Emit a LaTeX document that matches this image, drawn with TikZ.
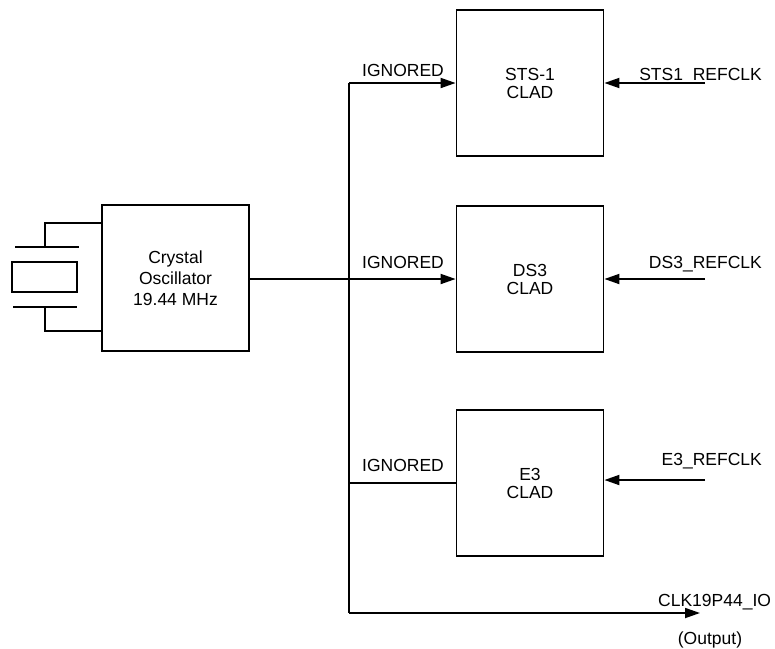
\documentclass[tikz,border=0pt]{standalone}
\usepackage{fontspec}
\setmainfont{Liberation Sans}
\usetikzlibrary{arrows.meta}

\tikzset{
  wire/.style={line width=1.8pt},
  arr/.style={wire, -{Triangle[length=15pt,width=10pt]}},
  block/.style={draw, line width=1.8pt, minimum width=147pt, minimum height=146pt,
    align=center, inner sep=0pt, font=\fontsize{17.5}{18}\selectfont},
  lbl/.style={inner sep=0pt, font=\fontsize{17.5}{18}\selectfont}
}

\begin{document}
\begin{tikzpicture}[x=1pt,y=-1pt]
\useasboundingbox (0,0) rectangle (775,648);

% blocks
\node[block, font=\fontsize{17.5}{21}\selectfont] (osc) at (175.5,278) {Crystal\\Oscillator\\19.44 MHz};
\node[block] (sts) at (530,83) {STS-1\\CLAD};
\node[block] (ds3) at (530,279) {DS3\\CLAD};
\node[block] (e3) at (530,483) {E3\\CLAD};

% crystal symbol
\draw[wire] (osc.west |- 0,223) -- (45,223) -- (45,247);
\draw[wire] (15,247) -- (79,247);
\draw[wire] (12,262) rectangle (77,292);
\draw[wire] (13,307) -- (77,307);
\draw[wire] (45,307) -- (45,331) -- (osc.west |- 0,331);

% clock bus
\coordinate (bus) at (349,0);
\coordinate (outend) at (700,613);
\draw[arr] (osc.east |- ds3.west) -- (ds3.west);
\draw[arr] (bus |- sts.west) -- (sts.west);
\draw[wire] (bus |- sts.west) -- (bus |- outend);
\draw[arr] (bus |- outend) -- (outend);
\draw[wire] (bus |- e3.west) -- (e3.west);

\node[lbl, anchor=base] (ign1) at (403,76) {IGNORED};
\node[lbl, anchor=base] (ign2) at (403,268) {IGNORED};
\node[lbl, anchor=base] (ign3) at (403,471) {IGNORED};

% reference clock inputs
\coordinate (stsin) at (705,83);
\coordinate (ds3in) at (705,279);
\coordinate (e3in) at (705,480);
\draw[arr] (stsin) -- (sts.east);
\draw[arr] (ds3in) -- (ds3.east |- ds3in);
\draw[arr] (e3in) -- (e3.east |- e3in);

\node[lbl, anchor=base east] (stsref) at (762,80) {STS1\_REFCLK};
\node[lbl, anchor=base east] (ds3ref) at (762,268) {DS3\_REFCLK};
\node[lbl, anchor=base east] (e3ref) at (762,465) {E3\_REFCLK};

% output
\node[lbl, anchor=base west] (clkout) at (658,606) {CLK19P44\_IO};
\node[lbl, anchor=base] (outnote) at (710,644) {(Output)};
\end{tikzpicture}
\end{document}
